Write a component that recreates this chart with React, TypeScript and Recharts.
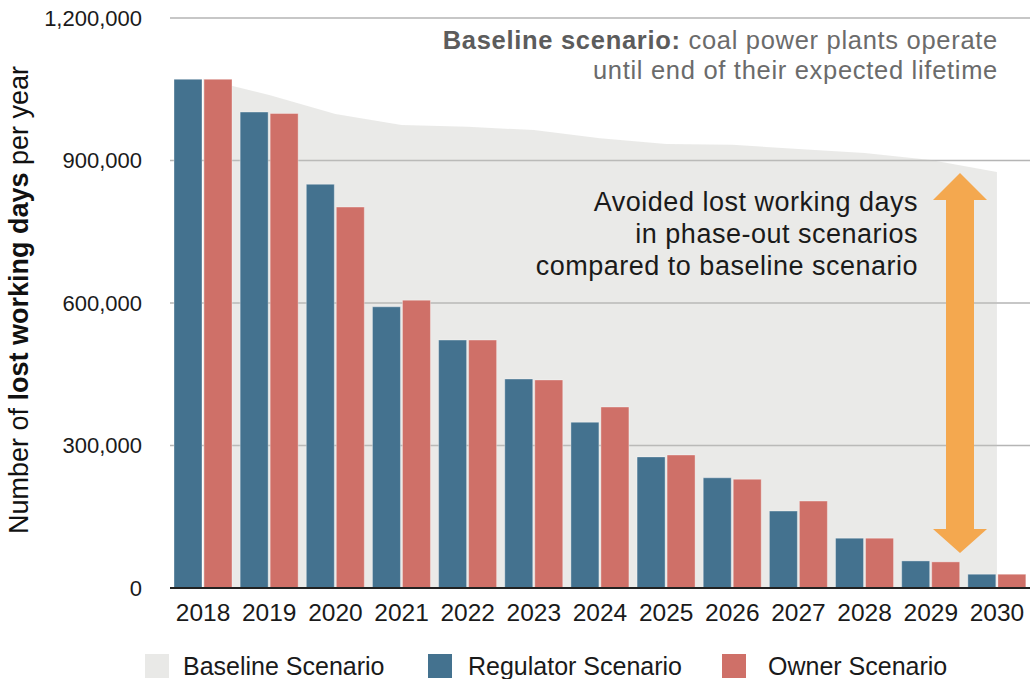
import { Area, Bar, CartesianGrid, ComposedChart, XAxis, YAxis } from "recharts"

const years = ["2018", "2019", "2020", "2021", "2022", "2023", "2024", "2025", "2026", "2027", "2028", "2029", "2030"]
const baseline = [1072000, 1038000, 998000, 975000, 971000, 964000, 947000, 935000, 933000, 924000, 916000, 901000, 876000]
const regulator = [1071000, 1002000, 850000, 592000, 522000, 440000, 349000, 276000, 232000, 162000, 105000, 57000, 29000]
const owner = [1071000, 999000, 802000, 606000, 522000, 438000, 381000, 280000, 229000, 183000, 105000, 55000, 29000]
const yTicks = [0, 300000, 600000, 900000, 1200000]

const data = years.map((year, i) => ({
  year,
  baseline: baseline[i],
  regulator: regulator[i],
  owner: owner[i],
}))

const BLUE = "#44728f"
const RED = "#cf7068"
const GREY = "#e9e9e7"
const ORANGE = "#f4a84f"
const FONT = "'Liberation Sans', Arial, Helvetica, sans-serif"

export default function App() {
  return (
    <div style={{ position: "relative", width: 1030, height: 679, fontFamily: FONT }}>
      <style>{`body { margin: 0; }`}</style>
      <ComposedChart
        width={1030}
        height={679}
        data={data}
        margin={{ top: 18, right: 0, bottom: 51, left: 0 }}
        barGap={2}
        barSize={28}
      >
        <Area
          dataKey="baseline"
          type="linear"
          stroke="none"
          fill="#c2c2bc"
          fillOpacity={0.35}
          isAnimationActive={false}
        />
        <CartesianGrid vertical={false} stroke="#b5b5b5" strokeWidth={1.5} />
        <XAxis
          dataKey="year"
          interval={0}
          tickLine={false}
          axisLine={{ stroke: "#222", strokeWidth: 2 }}
          tick={{ fontSize: 24.5, fill: "#1a1a1a" }}
          tickMargin={10}
          height={40}
        />
        <YAxis
          width={170}
          domain={[0, 1200000]}
          ticks={yTicks}
          axisLine={false}
          tickLine={false}
          tickMargin={22}
          tick={{ fontSize: 22, fill: "#1a1a1a" }}
          tickFormatter={(v: number) => v.toLocaleString("en-US")}
        />
        <Bar dataKey="regulator" fill={BLUE} stroke="#ffffff" strokeOpacity={0.35} isAnimationActive={false} />
        <Bar dataKey="owner" fill={RED} stroke="#ffffff" strokeOpacity={0.35} isAnimationActive={false} />
      </ComposedChart>

      <svg
        width={1030}
        height={679}
        style={{ position: "absolute", left: 0, top: 0, pointerEvents: "none", fontFamily: FONT }}
      >
        <text transform="translate(28,300) rotate(-90)" textAnchor="middle" fontSize={27} fill="#111">
          Number of <tspan fontWeight="bold">lost working days</tspan> per year
        </text>

        <text x={998} y={49} textAnchor="end" fontSize={25.5} letterSpacing={0.7} fill="#6b6b6b">
          <tspan fontWeight="bold" fill="#5c5c5c">Baseline scenario:</tspan> coal power plants operate
        </text>
        <text x={998} y={79} textAnchor="end" fontSize={25.5} letterSpacing={0.7} fill="#6b6b6b">
          until end of their expected lifetime
        </text>

        <text textAnchor="end" fontSize={27} letterSpacing={0.5} fill="#1a1a1a">
          <tspan x={918} y={211}>Avoided lost working days</tspan>
          <tspan x={918} y={243}>in phase-out scenarios</tspan>
          <tspan x={918} y={275}>compared to baseline scenario</tspan>
        </text>

        <polygon
          points="960,173 987,200 974,200 974,529 987,529 960,553 933,529 946,529 946,200 933,200"
          fill={ORANGE}
        />

        <rect x={145} y={654} width={24} height={24} fill={GREY} />
        <text x={183} y={675} fontSize={25} fill="#1a1a1a">Baseline Scenario</text>
        <rect x={428} y={654} width={24} height={24} fill={BLUE} />
        <text x={468} y={675} fontSize={25} fill="#1a1a1a">Regulator Scenario</text>
        <rect x={722} y={654} width={24} height={24} fill={RED} />
        <text x={768} y={675} fontSize={25} fill="#1a1a1a">Owner Scenario</text>
      </svg>
    </div>
  )
}
